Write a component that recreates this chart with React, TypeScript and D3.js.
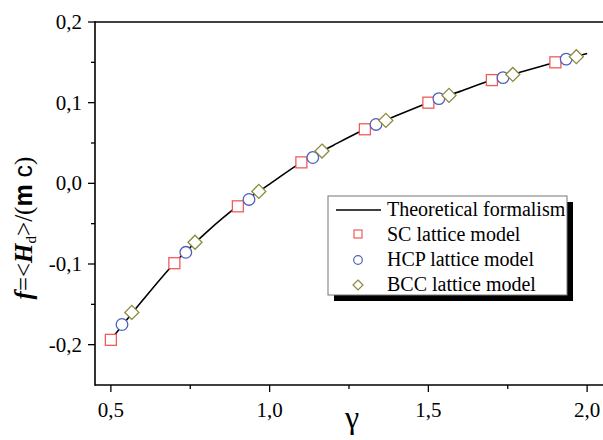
import React from "react";
import * as d3 from "d3";

const theoryX = [0.5, 0.6, 0.7, 0.8, 0.9, 1.0, 1.1, 1.2, 1.3, 1.4, 1.5, 1.6, 1.7, 1.8, 1.9, 2.0];
const theoryY = [-0.194, -0.145, -0.099, -0.061, -0.028, -0.001, 0.026, 0.047, 0.067, 0.084, 0.1, 0.114, 0.128, 0.139, 0.15, 0.161];

const scX = [0.5, 0.7, 0.9, 1.1, 1.3, 1.5, 1.7, 1.9];
const scY = [-0.194, -0.099, -0.0285, 0.026, 0.067, 0.1, 0.128, 0.15];
const hcpX = [0.535, 0.736, 0.935, 1.136, 1.335, 1.533, 1.735, 1.934];
const hcpY = [-0.175, -0.0855, -0.02, 0.032, 0.073, 0.105, 0.131, 0.154];
const bccX = [0.566, 0.765, 0.966, 1.165, 1.366, 1.565, 1.766, 1.966];
const bccY = [-0.16, -0.073, -0.01, 0.04, 0.078, 0.109, 0.135, 0.157];

const xTicks = [0.5, 1.0, 1.5, 2.0];
const xMinor = [0.75, 1.25, 1.75];
const yTicks = [-0.2, -0.1, 0.0, 0.1, 0.2];
const yMinor = [-0.15, -0.05, 0.05, 0.15];

const legendLabels = ["Theoretical formalism", "SC lattice model", "HCP lattice model", "BCC lattice model"];

const W = 603, H = 440;
const L = 95, R = 603, T = 22, B = 385;

const x = d3.scaleLinear().domain([0.45, 2.05]).range([L, R]);
const y = d3.scaleLinear().domain([-0.25, 0.2]).range([B, T]);

const fmt = (v: number) => v.toFixed(1).replace(".", ",");
const serif = { fontFamily: "Liberation Serif" };
const sans = { fontFamily: "Liberation Sans" };

const SC_COL = "#f25a5a";
const HCP_COL = "#5060c0";
const BCC_COL = "#8a8a3a";

function Square({ cx, cy }: { cx: number; cy: number }) {
  return <rect x={cx - 5.5} y={cy - 5.5} width={11} height={11} fill="white" stroke={SC_COL} strokeWidth={1.3} />;
}
function Circ({ cx, cy }: { cx: number; cy: number }) {
  return <circle cx={cx} cy={cy} r={5.8} fill="white" stroke={HCP_COL} strokeWidth={1.3} />;
}
function Diam({ cx, cy }: { cx: number; cy: number }) {
  const s = 7;
  return <path d={`M${cx},${cy - s}L${cx + s},${cy}L${cx},${cy + s}L${cx - s},${cy}Z`} fill="white" stroke={BCC_COL} strokeWidth={1.3} />;
}

export default function App() {
  const line = d3
    .line<number>()
    .x((_, i) => x(theoryX[i]))
    .y((d) => y(d))
    .curve(d3.curveMonotoneX);
  const lx = 328, ly = 196, lw = 239, lh = 99;
  return (
    <svg width={W} height={H} style={{ position: "absolute", left: 0, top: 0 }}>
      <rect width={W} height={H} fill="white" />
      {/* frame */}
      <line x1={L} y1={T} x2={R} y2={T} stroke="black" strokeWidth={1.6} />
      <line x1={L} y1={T - 0.8} x2={L} y2={B + 0.8} stroke="black" strokeWidth={1.6} />
      <line x1={L} y1={B} x2={R} y2={B} stroke="black" strokeWidth={1.6} />
      {/* y ticks */}
      {yTicks.map((t) => (
        <g key={"y" + t}>
          <line x1={L - 7} x2={L} y1={y(t)} y2={y(t)} stroke="black" strokeWidth={1.3} />
          <text x={L - 13} y={y(t) + 7} textAnchor="end" style={serif} fontSize={21}>
            {fmt(t)}
          </text>
        </g>
      ))}
      {yMinor.map((t) => (
        <line key={"ym" + t} x1={L - 4} x2={L} y1={y(t)} y2={y(t)} stroke="black" strokeWidth={1.3} />
      ))}
      {/* x ticks */}
      {xTicks.map((t) => (
        <g key={"x" + t}>
          <line x1={x(t)} x2={x(t)} y1={B} y2={B + 7} stroke="black" strokeWidth={1.3} />
          <text x={x(t)} y={B + 32} textAnchor="middle" style={serif} fontSize={21}>
            {fmt(t)}
          </text>
        </g>
      ))}
      {xMinor.map((t) => (
        <line key={"xm" + t} x1={x(t)} x2={x(t)} y1={B} y2={B + 4} stroke="black" strokeWidth={1.3} />
      ))}
      {/* axis titles */}
      <text x={352} y={428} textAnchor="middle" style={serif} fontSize={32}>
        γ
      </text>
      <text transform="translate(32,228) rotate(-90)" textAnchor="middle" style={serif} fontSize={25}>
        <tspan fontStyle="italic" fontWeight="bold">f</tspan>
        <tspan>=&lt;</tspan>
        <tspan fontStyle="italic" fontWeight="bold">H</tspan>
        <tspan fontSize={15} dy={4}>d</tspan>
        <tspan dy={-4}>&gt;/(</tspan>
        <tspan style={sans} fontWeight="bold">m</tspan>
        <tspan style={sans}> c</tspan>
        <tspan>)</tspan>
      </text>
      {/* theory line */}
      <path d={line(theoryY) || ""} fill="none" stroke="black" strokeWidth={1.6} />
      {scX.map((v, i) => (
        <Square key={"s" + i} cx={x(v)} cy={y(scY[i])} />
      ))}
      {hcpX.map((v, i) => (
        <Circ key={"h" + i} cx={x(v)} cy={y(hcpY[i])} />
      ))}
      {bccX.map((v, i) => (
        <Diam key={"b" + i} cx={x(v)} cy={y(bccY[i])} />
      ))}
      {/* legend */}
      <rect x={lx + 6} y={ly + 6} width={lw} height={lh} fill="black" />
      <rect x={lx} y={ly} width={lw} height={lh} fill="white" stroke="#777" strokeWidth={1} />
      <line x1={336} x2={381} y1={210} y2={210} stroke="black" strokeWidth={1.6} />
      <rect x={358 - 4} y={234 - 4} width={8} height={8} fill="white" stroke={SC_COL} strokeWidth={1.2} />
      <circle cx={358} cy={260} r={4.3} fill="white" stroke={HCP_COL} strokeWidth={1.2} />
      <path d="M358,280L363,285L358,290L353,285Z" fill="white" stroke={BCC_COL} strokeWidth={1.2} />
      {legendLabels.map((s, i) => (
        <text key={s} x={387} y={216 + i * 25} style={serif} fontSize={20}>
          {s}
        </text>
      ))}
    </svg>
  );
}
